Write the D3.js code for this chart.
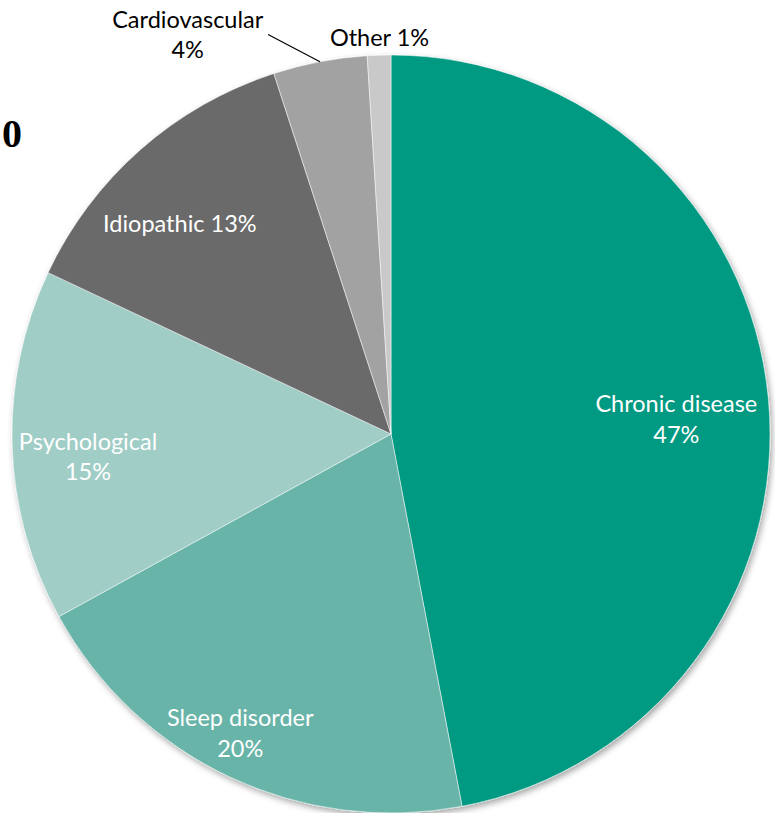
<!DOCTYPE html>
<html>
<head>
<meta charset="utf-8">
<script src="https://d3js.org/d3.v7.min.js"></script>
<style>
  body { margin: 0; background: #fff; }
  svg { display: block; }
</style>
</head>
<body>
<div id="chart"></div>
<script>
// data
var categories = ["Chronic disease", "Sleep disorder", "Psychological", "Idiopathic", "Cardiovascular", "Other"];
var values = [47, 20, 15, 13, 4, 1];
var colors = ["#009982", "#68b4a8", "#a0cdc6", "#6a6a6a", "#a2a2a2", "#c9c9c9"];

var width = 775, height = 813;
var cx = 391, cy = 434, radius = 379;

var svg = d3.select("#chart").append("svg")
  .attr("width", width)
  .attr("height", height);

var defs = svg.append("defs");
var f = defs.append("filter").attr("id", "shadow")
  .attr("x", "-10%").attr("y", "-10%").attr("width", "120%").attr("height", "120%");
f.append("feDropShadow").attr("dx", 2).attr("dy", 3).attr("stdDeviation", 3)
  .attr("flood-color", "#000").attr("flood-opacity", 0.35);

// stray clipped heading glyph at the left edge
svg.append("text")
  .attr("x", 22).attr("y", 147)
  .attr("text-anchor", "end")
  .style("font-family", "'Liberation Serif', serif")
  .style("font-weight", "bold")
  .style("font-size", "40px")
  .text("0");

var pie = d3.pie().sort(null).value(function (d) { return d; });
var arcs = pie(values);
var arc = d3.arc().innerRadius(0).outerRadius(radius);

var g = svg.append("g").attr("transform", "translate(" + cx + "," + cy + ")");

g.append("g").attr("filter", "url(#shadow)")
  .selectAll("path")
  .data(arcs)
  .enter().append("path")
    .attr("d", arc)
    .attr("fill", function (d, i) { return colors[i]; })
    .attr("stroke", "#fff")
    .attr("stroke-width", 0.5);

// label placement (radius from centre along each slice's mid angle, plus a small turn)
var labelR = [286, 331, 303.5, 298, 452, 396.6];
var labelAngleShift = [0.026, 0.033, -0.028, -0.065, -0.278, 0.0025];
var twoLine = [true, true, true, false, true, false];
var inside = [true, true, true, true, false, false];

function polar(r, a) { return [r * Math.sin(a), -r * Math.cos(a)]; }
function mid(d) { return (d.startAngle + d.endAngle) / 2; }

var labels = g.append("g")
  .selectAll("text")
  .data(arcs)
  .enter().append("text")
    .attr("text-anchor", "middle")
    .style("font-family", "Lato, 'Open Sans', sans-serif")
    .style("font-size", "23.5px")
    .attr("fill", function (d, i) { return inside[i] ? "#fff" : "#000"; })
    .attr("transform", function (d, i) {
      var p = polar(labelR[i], mid(d) + labelAngleShift[i]);
      return "translate(" + p[0] + "," + p[1] + ")";
    });

labels.each(function (d, i) {
  var t = d3.select(this);
  if (twoLine[i]) {
    t.append("tspan").attr("x", 0).attr("dy", "-0.1em").text(categories[i]);
    t.append("tspan").attr("x", 0).attr("dy", "1.3em").text(values[i] + "%");
  } else {
    t.append("tspan").attr("x", 0).attr("dy", "0.35em").text(categories[i] + " " + values[i] + "%");
  }
});

// leader line for Cardiovascular
var cardio = arcs[4];
var p1 = polar(radius, mid(cardio));
var p2 = polar(418, mid(cardio) - 0.11);
g.append("line")
  .attr("x1", p1[0]).attr("y1", p1[1])
  .attr("x2", p2[0]).attr("y2", p2[1])
  .attr("stroke", "#000")
  .attr("stroke-width", 1.2);
</script>
</body>
</html>
